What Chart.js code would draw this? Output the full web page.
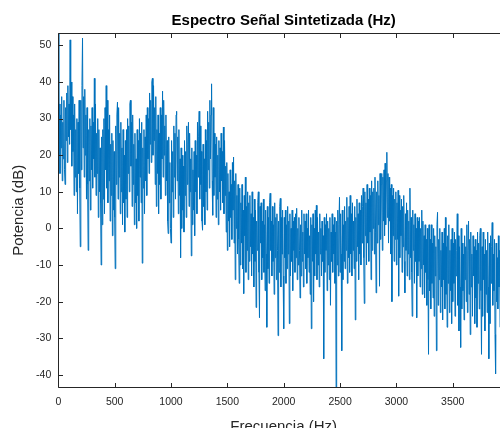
<!DOCTYPE html>
<html><head><meta charset="utf-8">
<script src="https://cdn.jsdelivr.net/npm/chart.js@4.4.0/dist/chart.umd.min.js"></script>
<style>
html,body{margin:0;padding:0;background:#fff;overflow:hidden;}
#wrap{width:500px;height:428px;overflow:hidden;position:relative;}
#box{width:520px;height:428px;position:absolute;left:0;top:0;}
</style></head><body>
<div id="wrap"><div id="box"><canvas id="c" width="520" height="428"></canvas></div></div>
<script>
const FREQ_STEP_HZ = 5;
// Power (dB) per 5 Hz bin (one row = 100 Hz)
const powerDb = [
 53.3, 20, 34, 15, 31, 22, 36, 13, 29, 19, 35, 16, 12, 33, 24, 37, 18, 39, 25, 34,
 23, 51.5, 27, 40, 17, 36, 21, 31, 9, 34, 14, 27, 10, 30, 4, 29, 15, 35, 11, -5,
 35, 16, 39, 52, 22, 36, 14, 38, 20, 31, 8, 33, 12, -6, 27, 13, 30, 5, 28, 16,
 33, 11, 29, 19, 41, 14, 34, 9, 26, 15, 30, 3, 27, 10, 22, 7, -10, 25, 1, 27,
 8, 30, 4, 33, 16, 39, 11, 35, 7, 27, 13, 31, 2, 23, 9, 26, -2, 24, 5, 21,
 3, -11, 28, 12, 31, 34.5, 8, 33, 14, 26, 4, 29, 10, 22, 1, 27, 7, 20, -1, 24,
 8, 27, 3, 30, 15, 28, 10, 34, 35, 17, 29, 6, 31, 12, 23, 1, 26, 7, 19, 0,
 27, 9, 24, 2, 30, 14, 26, 7, 29, -9.5, 22, 11, 27, 4, 25, 13, 31, 9, 33, 19,
 30, 15, 37, 23, 35, 18, 40, 41, 20, 39, 24, 33, 12, 36, 6, 27, 15, 31, 4, 26,
 12, 33, 8, 31, 19, 37.5, 14, 35, 20, 28, 9, 31, 13, 24, 2, -1.4, 25, 7, 18, 0,
 -4, 24, 10, 21, 3, 28, 14, 26, 8, 31, 32, 13, 25, 4, 27, 9, 19, -8, 22, 0,
 20, 5, 17, -1, 24, 9, 21, 3, 28, 12, 23, 29, 6, 26, 10, 19, -7.5, 22, 1, 16,
 5, 21, -2, 24, 10, 20, 4, 29, 14, 25, 32, 8, 28, 12, 21, 2, -0.5, 23, 6, 19,
 1, 27, 10, 24, 5, 32, 16, 29, 11, 35, 19, 31, 39.5, 13, 3.6, 33, 9, 26, 14, 23,
 3, 25, 8, 20, 1, 24, 10, 22, 5, 26, 13, 21, 7, 27.7, 4, 24, 9, 17, -1, 18,
 -6, 15, 2, 10, -5, 16, 3, 12, -3, 18, 5, 19.5, -4, 13, -14, 15, 0, 9, -7, 12,
 -3, -15, 11, -10, 7, -4, 12, -11, 5, -17.8, 9, -2, 14, -12, 6, -6, 10, -14, 7, -9,
 9, -5, 4, -13, 10, -7, 3, -16, 8, -9, 5, -21.6, 2, -6, 7, 10, -12, -24.4, 6, -4,
 7, -14, 2, -8, 8, -12, 1, -17, 5, -7, -27, 6, -11, 3, -15, 7, 9.6, -6, 2, -13,
 6, -9, 1, -18, 7, -8, 3, -14, 4, -6, -29.3, 2, -12, 6, 8.2, -16, 3, -7, 5, -13,
 -27.4, 3, -8, 5, -15, 1, -11, 6, -7, 2, -26, 4, -13, 0, -9, 5, -17, 2, -6, 3,
 -12, 4, -8, 5.5, -14, 0, -10, 3, -6, -19, 1, -13, 5, -9, -1, -16, 4, -7, 2, -11,
 4, -15, 0, -8, 5, -12, -2, -18, 3, -27.4, 1, -9, 4, -20, 0, -13, 5, -7, 6.3, -14,
 3, -10, -1, -16, 4, -7, 0, -13, 2, -9, -2, -35.6, 3, -12, 1, -6, 4, -17, 2, -10,
 0, -14, 3, -21, -1, -9, 4, -12, 1, -7, 3, -15, -1, -43.4, 2, -10, 5, -13, 1, 8.5,
 -12, 4, -7, -33.4, 5, -14, 1, -9, 6, -11, 2, -6, 8.5, -15, 3, -8, 6, -12, 9, -7,
 4, -13, 7, -6, 2, -11, 6, -25, 3, -9, 8, -5, 4, -14, 7, -7, 5, -10, 9, -4,
 6, 11, -8, -20.5, 10, -2, 7, -10, 12, -4, 8, -9, 11, -1, 9, -14, 13, -6, 10, 0,
 11, -7, 14, -1, -17.6, 10, -4, 13, 1, 9, -15.8, 15, -3, 12, 15, -6, 14, 2, 16, -2,
 17.8, 1, 13, 20.8, 3, 15, -4, 14, 2, 11, -7, 12, -20, 9, -2, 11, -9, 8, -3, 10,
 -10, 7, -3, 10.4, -18.5, 9, -8, 5, -2, 8, -12, 6, -5, 9, -9, -17.6, 4, -6, 7, -13,
 5, -7, 2, -14, 11, -8, 3, -12, -24, 5, -6, 1, -15, 4, -9, 0, -24.4, 3, -13, 2,
 -9, 3, -16, 0, -11, 5, -18, 2, -10, -2, -19, 1, -12, -3, -21, 0, -14, -34.4, 1, -17,
 -3, -22, 1, -15, -4, -19, 0, -24, -2, -13, -5, -33.4, 1, 4.4, -21, -3, -14, 0, -23, -6,
 -16, -1, -25, -4, -14, 0, -22, 3, -18, -5, -27, -2, -15, 1, -23, -6, -17, -3, -26, 0,
 -20, -4, -15, -1, -24, -3, -13, -6, 4, -21, -2, -28, -5, -16, -32.5, 0, -22, -4, -17, -7,
 -25, -2, -14, -5, -20, 1, -23, -6, 2, -18, -3, -29, -1, -16, -7, -24, -2, -13, -5, -26,
 -3, -19, -6, -27, -1, -15, -4, -22, -2, 0, -17, -34.4, -5, -24, -1, -14, -7, -28, -3, -18,
 -6, -23, -1, -16, -35.6, -4, -26, -2, -15, -5, 1.6, -21, -7, -17, -3, -29, -39.7, -4, -20, -8,
 -22, -2, -16, -6, -27, -3, -19, -5, -24, -1, -15, -8, -23, -4, -18, -6, -30, -2, -17, -7
];
const freqHz = powerDb.map((_, i) => i * FREQ_STEP_HZ);
const xTickValues = [0, 500, 1000, 1500, 2000, 2500, 3000, 3500];
const yTickValues = [-40, -30, -20, -10, 0, 10, 20, 30, 40, 50];
const xRange = [0, 3999];
const yRange = [-43.4, 53.3];

const FONT = "'Liberation Sans', Arial, Helvetica, sans-serif";
const AX = '#262626';

const frame = {
  id: 'frame',
  afterDatasetsDraw(chart) {
    const {ctx, chartArea: a, scales: {x, y}} = chart;
    const L = Math.round(a.left) + 0.5, R = Math.round(a.right) + 0.5;
    const T = Math.round(a.top) + 0.5, B = Math.round(a.bottom) + 0.5;
    const tl = 4.5;
    ctx.save();
    ctx.strokeStyle = AX; ctx.lineWidth = 1;
    ctx.beginPath();
    ctx.rect(L, T, R - L, B - T);
    xTickValues.forEach(v => {
      const px = Math.round(x.getPixelForValue(v)) + 0.5;
      ctx.moveTo(px, B); ctx.lineTo(px, B - tl);
      ctx.moveTo(px, T); ctx.lineTo(px, T + tl);
    });
    yTickValues.forEach(v => {
      const py = Math.round(y.getPixelForValue(v)) + 0.5;
      ctx.moveTo(L, py); ctx.lineTo(L + tl, py);
      ctx.moveTo(R, py); ctx.lineTo(R - tl, py);
    });
    ctx.stroke();
    ctx.restore();
  }
};

new Chart(document.getElementById('c'), {
  type: 'line',
  data: {
    datasets: [{
      data: freqHz.map((f, i) => ({x: f, y: powerDb[i]})),
      borderColor: '#0072BD',
      borderWidth: 1,
      pointRadius: 0,
      tension: 0,
      fill: false
    }]
  },
  options: {
    responsive: false,
    animation: false,
    devicePixelRatio: 1,
    layout: {padding: {left: 0, right: 11, top: 0, bottom: 0}},
    plugins: {
      legend: {display: false},
      tooltip: {enabled: false},
      title: {
        display: true,
        fullSize: false,
        text: 'Espectro Señal Sintetizada (Hz)',
        color: '#000',
        font: {family: FONT, size: 15, weight: 'bold', lineHeight: 1.2},
        padding: {top: 11.5, bottom: 3.8}
      }
    },
    scales: {
      x: {
        type: 'linear', min: xRange[0], max: xRange[1],
        grid: {display: false, drawTicks: false},
        border: {display: false},
        afterBuildTicks: s => { s.ticks = xTickValues.map(v => ({value: v})); },
        afterFit: s => { s.height = 40.7; },
        ticks: {color: AX, font: {family: FONT, size: 10.5}, padding: 9, maxRotation: 0, autoSkip: false,
                includeBounds: false, callback: v => String(v)},
        title: {display: true, text: 'Frecuencia (Hz)', color: AX,
                font: {family: FONT, size: 15, lineHeight: 1}, padding: {top: 0, bottom: -6.5}}
      },
      y: {
        type: 'linear', min: yRange[0], max: yRange[1],
        grid: {display: false, drawTicks: false},
        border: {display: false},
        afterBuildTicks: s => { s.ticks = yTickValues.map(v => ({value: v})); },
        afterFit: s => { s.width = 58.3; },
        ticks: {color: AX, font: {family: FONT, size: 10.5}, padding: 7, autoSkip: false,
                includeBounds: false, callback: v => String(v)},
        title: {display: true, text: 'Potencia (dB)', color: AX,
                font: {family: FONT, size: 15, lineHeight: 1.2}, padding: {top: 10, bottom: 0}}
      }
    }
  },
  plugins: [frame]
});
</script>
</body></html>
